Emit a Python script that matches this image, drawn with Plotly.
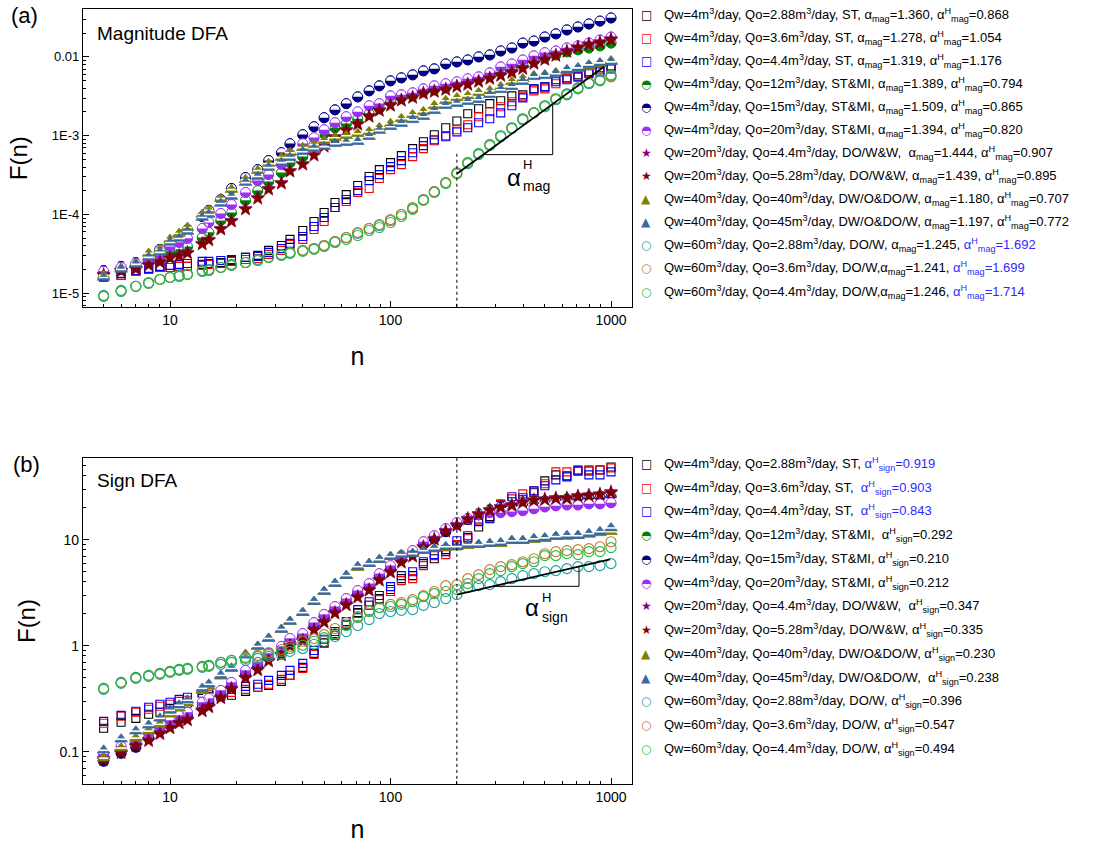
import plotly.graph_objects as go

W, H = 1113, 843

n_values = [5, 6, 7, 8, 9, 10, 11, 12, 14, 15, 17, 19, 22, 25, 28, 32, 35, 40, 45, 50,
            56, 63, 71, 80, 89, 100, 112, 126, 141, 158, 178, 200, 224, 251, 282, 316,
            355, 398, 447, 501, 562, 631, 708, 794, 891, 1000]

# ---------------- (a) Magnitude DFA ----------------
mag_sq_black = [1.59e-5, 1.69e-5, 1.90e-5, 2.01e-5, 2.13e-5, 2.13e-5, 2.20e-5, 2.20e-5, 2.33e-5, 2.39e-5,
                2.46e-5, 2.61e-5, 2.86e-5, 3.03e-5, 3.51e-5, 4.05e-5, 4.83e-5, 6.27e-5, 8.16e-5, 1.06e-4,
                1.42e-4, 1.79e-4, 2.33e-4, 3.03e-4, 3.71e-4, 4.55e-4, 5.58e-4, 6.85e-4, 8.39e-4, 1.03e-3,
                1.26e-3, 1.54e-3, 1.90e-3, 2.20e-3, 2.55e-3, 2.78e-3, 3.20e-3, 3.30e-3, 3.93e-3, 4.17e-3,
                5.12e-3, 5.42e-3, 5.92e-3, 6.46e-3, 7.25e-3, 7.69e-3]
mag_sq_red = [1.59e-5, 1.69e-5, 1.90e-5, 2.01e-5, 2.13e-5, 2.13e-5, 2.20e-5, 2.20e-5, 2.26e-5, 2.33e-5,
              2.39e-5, 2.54e-5, 2.69e-5, 2.77e-5, 3.12e-5, 3.51e-5, 4.17e-5, 4.83e-5, 6.46e-5, 8.16e-5,
              1.23e-4, 1.46e-4, 1.90e-4, 2.14e-4, 2.86e-4, 3.71e-4, 4.30e-4, 5.42e-4, 6.85e-4, 8.64e-4,
              1.00e-3, 1.19e-3, 1.38e-3, 1.74e-3, 2.01e-3, 2.33e-3, 2.70e-3, 3.11e-3, 3.71e-3, 3.93e-3,
              4.56e-3, 5.27e-3, 5.58e-3, 6.27e-3, 6.85e-3, 7.47e-3]
mag_sq_blue = [1.64e-5, 1.79e-5, 1.95e-5, 2.07e-5, 2.20e-5, 2.26e-5, 2.33e-5, 2.39e-5, 2.54e-5, 2.54e-5,
               2.61e-5, 2.69e-5, 2.86e-5, 2.94e-5, 3.31e-5, 3.71e-5, 4.30e-5, 5.26e-5, 7.04e-5, 9.16e-5,
               1.23e-4, 1.55e-4, 2.01e-4, 2.69e-4, 3.21e-4, 4.05e-4, 4.83e-4, 6.09e-4, 7.48e-4, 8.90e-4,
               9.71e-4, 1.12e-3, 1.26e-3, 1.46e-3, 1.64e-3, 1.95e-3, 2.40e-3, 3.02e-3, 3.93e-3, 4.17e-3,
               4.83e-3, 5.12e-3, 5.58e-3, 6.10e-3, 6.46e-3, 7.05e-3]
mag_hc_green = [1.74e-5, 2.01e-5, 2.26e-5, 2.46e-5, 2.69e-5, 3.40e-5, 3.61e-5, 3.93e-5, 5.11e-5, 5.92e-5,
                8.40e-5, 1.06e-4, 1.51e-4, 2.01e-4, 2.61e-4, 3.40e-4, 4.55e-4, 5.42e-4, 7.70e-4, 1.06e-3,
                1.26e-3, 1.42e-3, 1.64e-3, 1.89e-3, 2.20e-3, 2.70e-3, 3.02e-3, 3.20e-3, 3.60e-3, 3.82e-3,
                4.05e-3, 4.56e-3, 4.97e-3, 5.27e-3, 5.75e-3, 6.46e-3, 7.05e-3, 7.92e-3, 8.89e-3, 9.71e-3,
                1.06e-2, 1.16e-2, 1.23e-2, 1.30e-2, 1.38e-2, 1.50e-2]
mag_hc_navy = [1.95e-5, 2.20e-5, 2.46e-5, 2.94e-5, 3.61e-5, 4.42e-5, 5.26e-5, 6.46e-5, 9.43e-5, 1.13e-4,
               1.55e-4, 2.14e-4, 2.94e-4, 3.71e-4, 4.83e-4, 6.09e-4, 7.92e-4, 1.03e-3, 1.30e-3, 1.69e-3,
               2.13e-3, 2.55e-3, 3.11e-3, 3.71e-3, 4.29e-3, 4.97e-3, 5.42e-3, 5.92e-3, 6.65e-3, 7.05e-3,
               8.15e-3, 8.64e-3, 9.16e-3, 1.00e-2, 1.06e-2, 1.19e-2, 1.30e-2, 1.50e-2, 1.59e-2, 1.79e-2,
               1.96e-2, 2.20e-2, 2.40e-2, 2.62e-2, 2.85e-2, 3.12e-2]
mag_hc_purple = [1.90e-5, 2.13e-5, 2.39e-5, 2.69e-5, 3.03e-5, 3.93e-5, 4.42e-5, 4.97e-5, 6.65e-5, 7.92e-5,
                 1.03e-4, 1.34e-4, 1.90e-4, 2.69e-4, 3.21e-4, 4.30e-4, 5.92e-4, 7.92e-4, 9.43e-4, 1.19e-3,
                 1.46e-3, 1.74e-3, 2.01e-3, 2.40e-3, 2.55e-3, 3.20e-3, 3.30e-3, 3.50e-3, 3.93e-3, 4.29e-3,
                 4.56e-3, 4.83e-3, 5.27e-3, 5.58e-3, 6.27e-3, 7.47e-3, 8.15e-3, 9.16e-3, 1.03e-2, 1.13e-2,
                 1.19e-2, 1.30e-2, 1.38e-2, 1.50e-2, 1.64e-2, 1.79e-2]
mag_star_purple = [1.74e-5, 1.95e-5, 2.07e-5, 2.33e-5, 2.54e-5, 2.86e-5, 3.03e-5, 3.31e-5, 4.30e-5, 4.83e-5,
                   6.65e-5, 8.40e-5, 1.19e-4, 1.64e-4, 2.14e-4, 2.54e-4, 3.60e-4, 4.42e-4, 5.75e-4, 7.48e-4,
                   9.71e-4, 1.19e-3, 1.42e-3, 1.79e-3, 2.13e-3, 2.47e-3, 2.86e-3, 3.11e-3, 3.50e-3, 3.71e-3,
                   3.93e-3, 4.29e-3, 4.56e-3, 4.97e-3, 5.42e-3, 5.92e-3, 6.46e-3, 7.25e-3, 8.39e-3, 9.43e-3,
                   1.06e-2, 1.19e-2, 1.34e-2, 1.46e-2, 1.55e-2, 1.69e-2]
mag_star_darkred = [1.69e-5, 1.90e-5, 2.01e-5, 2.26e-5, 2.46e-5, 2.77e-5, 2.94e-5, 3.21e-5, 4.17e-5, 4.69e-5,
                    6.46e-5, 8.16e-5, 1.16e-4, 1.59e-4, 2.07e-4, 2.47e-4, 3.50e-4, 4.30e-4, 5.58e-4, 7.26e-4,
                    9.43e-4, 1.16e-3, 1.38e-3, 1.74e-3, 2.07e-3, 2.40e-3, 2.78e-3, 3.02e-3, 3.40e-3, 3.60e-3,
                    3.82e-3, 4.17e-3, 4.42e-3, 4.83e-3, 5.27e-3, 5.75e-3, 6.27e-3, 7.05e-3, 8.15e-3, 9.16e-3,
                    1.03e-2, 1.16e-2, 1.30e-2, 1.42e-2, 1.50e-2, 1.64e-2]
mag_tri_olive = [1.69e-5, 2.07e-5, 2.39e-5, 3.21e-5, 3.61e-5, 4.83e-5, 5.75e-5, 6.84e-5, 1.00e-4, 1.13e-4,
                 1.59e-4, 2.07e-4, 2.77e-4, 3.60e-4, 4.42e-4, 5.27e-4, 6.09e-4, 7.05e-4, 7.70e-4, 8.64e-4,
                 9.43e-4, 1.00e-3, 1.06e-3, 1.12e-3, 1.26e-3, 1.42e-3, 1.64e-3, 1.84e-3, 2.01e-3, 2.40e-3,
                 2.78e-3, 3.02e-3, 3.20e-3, 3.50e-3, 3.71e-3, 4.17e-3, 4.83e-3, 5.27e-3, 5.75e-3, 5.92e-3,
                 6.27e-3, 6.65e-3, 7.05e-3, 7.47e-3, 8.15e-3, 8.89e-3]
mag_tri_steel = [1.59e-5, 2.01e-5, 2.33e-5, 2.86e-5, 3.31e-5, 4.42e-5, 4.97e-5, 6.09e-5, 9.16e-5, 1.00e-4,
                 1.38e-4, 1.69e-4, 2.54e-4, 3.03e-4, 3.94e-4, 4.55e-4, 5.27e-4, 6.27e-4, 6.85e-4, 7.26e-4,
                 7.92e-4, 8.16e-4, 8.39e-4, 9.71e-4, 1.16e-3, 1.30e-3, 1.42e-3, 1.59e-3, 1.74e-3, 2.07e-3,
                 2.40e-3, 2.55e-3, 2.70e-3, 2.86e-3, 3.30e-3, 3.82e-3, 4.17e-3, 4.83e-3, 5.58e-3, 5.75e-3,
                 6.10e-3, 6.85e-3, 7.25e-3, 7.92e-3, 8.39e-3, 8.64e-3]
mag_circ_cyan = [9.42e-6, 1.09e-5, 1.23e-5, 1.37e-5, 1.50e-5, 1.59e-5, 1.69e-5, 1.74e-5, 1.95e-5, 2.01e-5,
                 2.13e-5, 2.33e-5, 2.46e-5, 2.69e-5, 2.86e-5, 3.12e-5, 3.31e-5, 3.51e-5, 3.71e-5, 4.05e-5,
                 4.55e-5, 5.11e-5, 5.75e-5, 6.65e-5, 7.25e-5, 8.40e-5, 1.00e-4, 1.19e-4, 1.55e-4, 1.95e-4,
                 2.54e-4, 3.30e-4, 4.42e-4, 5.75e-4, 7.48e-4, 9.71e-4, 1.23e-3, 1.59e-3, 1.95e-3, 2.33e-3,
                 2.86e-3, 3.30e-3, 3.93e-3, 4.56e-3, 4.97e-3, 5.58e-3]
mag_circ_brown = [9.15e-6, 1.06e-5, 1.23e-5, 1.34e-5, 1.50e-5, 1.59e-5, 1.64e-5, 1.74e-5, 1.90e-5, 1.95e-5,
                  2.13e-5, 2.26e-5, 2.46e-5, 2.61e-5, 2.86e-5, 3.03e-5, 3.21e-5, 3.51e-5, 3.71e-5, 4.05e-5,
                  4.55e-5, 5.11e-5, 5.92e-5, 6.65e-5, 7.47e-5, 8.65e-5, 1.00e-4, 1.23e-4, 1.55e-4, 1.95e-4,
                  2.54e-4, 3.40e-4, 4.55e-4, 5.92e-4, 7.70e-4, 1.00e-3, 1.26e-3, 1.64e-3, 1.95e-3, 2.40e-3,
                  2.94e-3, 3.40e-3, 4.05e-3, 4.69e-3, 5.12e-3, 5.75e-3]
mag_circ_green = [9.15e-6, 1.06e-5, 1.23e-5, 1.34e-5, 1.50e-5, 1.59e-5, 1.64e-5, 1.74e-5, 1.90e-5, 1.95e-5,
                  2.13e-5, 2.26e-5, 2.46e-5, 2.61e-5, 2.86e-5, 3.03e-5, 3.21e-5, 3.40e-5, 3.61e-5, 3.93e-5,
                  4.42e-5, 4.83e-5, 5.42e-5, 6.27e-5, 6.84e-5, 7.92e-5, 9.43e-5, 1.16e-4, 1.51e-4, 1.90e-4,
                  2.47e-4, 3.30e-4, 4.55e-4, 5.92e-4, 7.70e-4, 1.00e-3, 1.26e-3, 1.64e-3, 1.95e-3, 2.40e-3,
                  2.94e-3, 3.40e-3, 4.05e-3, 4.69e-3, 5.12e-3, 5.92e-3]

# ---------------- (b) Sign DFA ----------------
sign_sq_black = [0.166, 0.189, 0.206, 0.225, 0.235, 0.256, 0.268, 0.286, 0.318, 0.333,
                 0.333, 0.340, 0.370, 0.404, 0.422, 0.460, 0.524, 0.624, 0.845, 1.07,
                 1.30, 1.59, 2.05, 2.40, 2.78, 3.39, 4.29, 4.58, 5.94, 6.62,
                 8.06, 8.78, 10.5, 13.2, 16.5, 21.3, 22.8, 23.8, 27.7, 35.9,
                 40.9, 40.0, 44.6, 44.6, 45.6, 48.6]
sign_sq_red = [0.185, 0.216, 0.235, 0.251, 0.268, 0.280, 0.298, 0.305, 0.340, 0.348,
               0.348, 0.362, 0.387, 0.404, 0.432, 0.481, 0.524, 0.610, 0.827, 1.05,
               1.25, 1.55, 2.01, 2.40, 2.72, 3.24, 4.11, 4.29, 5.69, 7.07,
               7.23, 8.98, 10.2, 15.1, 16.1, 21.8, 24.3, 27.1, 28.9, 33.7,
               43.7, 43.7, 45.6, 45.6, 45.6, 47.6]
sign_sq_blue = [0.193, 0.220, 0.240, 0.262, 0.280, 0.292, 0.311, 0.326, 0.355, 0.362,
                0.370, 0.387, 0.413, 0.432, 0.470, 0.524, 0.584, 0.680, 0.901, 1.15,
                1.36, 1.69, 2.19, 2.60, 2.97, 3.61, 4.58, 4.99, 6.20, 7.23,
                7.71, 9.77, 10.9, 14.8, 15.8, 20.9, 25.4, 24.9, 28.9, 32.3,
                36.7, 39.2, 44.6, 40.9, 40.9, 43.7]
sign_hc_green = [0.0849, 0.101, 0.117, 0.140, 0.159, 0.185, 0.211, 0.225, 0.274, 0.305,
                 0.362, 0.432, 0.559, 0.666, 0.810, 0.941, 1.12, 1.25, 1.59, 1.88,
                 2.24, 2.66, 3.17, 3.69, 4.58, 5.45, 6.62, 7.55, 9.17, 10.7,
                 12.2, 14.1, 15.8, 17.6, 19.2, 20.4, 20.9, 21.8, 22.8, 23.3,
                 23.8, 24.3, 24.9, 25.4, 25.9, 26.5]
sign_hc_navy = [0.0812, 0.0966, 0.110, 0.134, 0.156, 0.177, 0.206, 0.220, 0.262, 0.292,
                0.348, 0.413, 0.536, 0.637, 0.775, 0.921, 1.10, 1.25, 1.55, 1.88,
                2.19, 2.60, 3.10, 3.61, 4.58, 5.33, 6.48, 7.38, 8.98, 10.2,
                11.9, 14.1, 15.5, 17.2, 18.8, 20.4, 20.4, 20.9, 21.3, 22.3,
                23.3, 23.8, 24.3, 24.9, 24.9, 25.4]
sign_hc_purple = [0.0946, 0.112, 0.126, 0.149, 0.170, 0.197, 0.220, 0.235, 0.292, 0.318,
                  0.378, 0.450, 0.584, 0.695, 0.845, 0.984, 1.17, 1.30, 1.65, 1.97,
                  2.34, 2.78, 3.31, 3.85, 4.78, 5.69, 7.07, 7.88, 9.56, 10.9,
                  12.7, 14.5, 15.8, 17.2, 18.0, 18.0, 18.4, 18.8, 19.6, 20.4,
                  20.9, 21.3, 21.3, 21.8, 21.8, 22.3]
sign_star_purple = [0.0857, 0.0990, 0.115, 0.129, 0.150, 0.170, 0.189, 0.202, 0.246, 0.268,
                    0.326, 0.397, 0.503, 0.598, 0.727, 0.830, 1.01, 1.13, 1.42, 1.69,
                    2.06, 2.46, 2.91, 3.39, 4.21, 5.01, 6.22, 7.09, 8.62, 10.2,
                    12.2, 13.8, 15.9, 17.6, 19.2, 20.5, 21.4, 22.8, 23.8, 24.3,
                    24.9, 24.9, 26.0, 26.5, 27.1, 28.4]
sign_star_darkred = [0.0831, 0.0966, 0.112, 0.126, 0.146, 0.166, 0.185, 0.197, 0.240, 0.262,
                     0.318, 0.387, 0.491, 0.584, 0.710, 0.810, 0.984, 1.10, 1.39, 1.65,
                     2.01, 2.40, 2.84, 3.31, 4.11, 4.89, 6.07, 6.92, 8.41, 10.0,
                     11.9, 13.5, 15.5, 17.2, 18.8, 20.0, 20.9, 22.3, 23.3, 23.8,
                     24.3, 24.3, 25.4, 25.9, 26.5, 27.7]
sign_tri_olive = [0.0867, 0.108, 0.134, 0.156, 0.181, 0.225, 0.256, 0.286, 0.378, 0.413,
                  0.513, 0.610, 0.827, 0.984, 1.17, 1.42, 1.69, 2.05, 2.60, 3.24,
                  3.85, 4.58, 5.45, 5.94, 6.48, 6.92, 7.23, 7.38, 7.88, 8.23,
                  8.41, 8.59, 8.78, 8.98, 9.17, 9.17, 9.77, 9.77, 10.0, 10.2,
                  10.7, 10.7, 10.9, 11.2, 11.6, 11.9]
sign_tri_steel = [0.103, 0.131, 0.156, 0.177, 0.206, 0.245, 0.274, 0.305, 0.395, 0.432,
                  0.524, 0.610, 0.810, 0.984, 1.17, 1.42, 1.69, 2.05, 2.60, 3.24,
                  3.85, 4.58, 5.57, 5.94, 6.48, 6.92, 7.23, 7.38, 7.88, 8.23,
                  8.59, 8.59, 8.98, 8.98, 9.17, 9.35, 9.77, 9.77, 10.2, 10.4,
                  10.7, 10.9, 10.9, 11.4, 11.9, 12.9]
sign_circ_cyan = [0.387, 0.441, 0.491, 0.513, 0.536, 0.559, 0.584, 0.597, 0.624, 0.637,
                  0.666, 0.695, 0.726, 0.758, 0.792, 0.827, 0.882, 0.941, 1.03, 1.10,
                  1.22, 1.36, 1.55, 1.76, 2.01, 2.10, 2.15, 2.19, 2.40, 2.55,
                  2.78, 3.03, 3.53, 3.69, 3.77, 4.02, 4.29, 4.58, 4.78, 4.99,
                  5.11, 5.33, 5.57, 5.57, 5.69, 5.94]
sign_circ_brown = [0.395, 0.450, 0.502, 0.524, 0.547, 0.572, 0.597, 0.610, 0.637, 0.651,
                   0.695, 0.726, 0.775, 0.810, 0.863, 0.921, 0.984, 1.10, 1.17, 1.27,
                   1.45, 1.65, 1.88, 2.15, 2.29, 2.45, 2.55, 2.72, 2.97, 3.24,
                   3.69, 3.77, 4.29, 4.68, 5.22, 5.57, 5.82, 6.20, 6.62, 7.38,
                   7.71, 7.88, 8.06, 8.23, 8.59, 9.56]
sign_circ_green = [0.395, 0.450, 0.502, 0.524, 0.547, 0.572, 0.597, 0.610, 0.637, 0.651,
                   0.695, 0.726, 0.758, 0.792, 0.827, 0.882, 0.941, 1.01, 1.10, 1.19,
                   1.30, 1.55, 1.84, 2.10, 2.29, 2.34, 2.45, 2.60, 2.90, 3.10,
                   3.24, 3.39, 3.85, 4.29, 4.78, 5.11, 5.57, 5.94, 6.20, 7.07,
                   7.07, 7.38, 7.23, 7.71, 7.71, 8.41]

# fit lines and slope guides (n, F)
mag_fit_n = [200, 929]
mag_fit_F = [3.3e-4, 7.5e-3]
mag_guide_n = [263, 544, 544]
mag_guide_F = [5.75e-4, 5.75e-4, 2.45e-3]
sign_fit_n = [200, 990]
sign_fit_F = [3.03, 6.52]
sign_guide_n = [292, 716, 716]
sign_guide_F = [3.63, 3.63, 5.58]
crossover_n = 200

# legend labels
BL = '#2b2bff'
mag_labels = [
    "Qw=4m<sup>3</sup>/day, Qo=2.88m<sup>3</sup>/day, ST, α<sub>mag</sub>=1.360, α<sup>H</sup><sub>mag</sub>=0.868",
    "Qw=4m<sup>3</sup>/day, Qo=3.6m<sup>3</sup>/day, ST, α<sub>mag</sub>=1.278, α<sup>H</sup><sub>mag</sub>=1.054",
    "Qw=4m<sup>3</sup>/day, Qo=4.4m<sup>3</sup>/day, ST, α<sub>mag</sub>=1.319, α<sup>H</sup><sub>mag</sub>=1.176",
    "Qw=4m<sup>3</sup>/day, Qo=12m<sup>3</sup>/day, ST&amp;MI, α<sub>mag</sub>=1.389, α<sup>H</sup><sub>mag</sub>=0.794",
    "Qw=4m<sup>3</sup>/day, Qo=15m<sup>3</sup>/day, ST&amp;MI, α<sub>mag</sub>=1.509, α<sup>H</sup><sub>mag</sub>=0.865",
    "Qw=4m<sup>3</sup>/day, Qo=20m<sup>3</sup>/day, ST&amp;MI, α<sub>mag</sub>=1.394, α<sup>H</sup><sub>mag</sub>=0.820",
    "Qw=20m<sup>3</sup>/day, Qo=4.4m<sup>3</sup>/day, DO/W&amp;W,  α<sub>mag</sub>=1.444, α<sup>H</sup><sub>mag</sub>=0.907",
    "Qw=20m<sup>3</sup>/day, Qo=5.28m<sup>3</sup>/day, DO/W&amp;W, α<sub>mag</sub>=1.439, α<sup>H</sup><sub>mag</sub>=0.895",
    "Qw=40m<sup>3</sup>/day, Qo=40m<sup>3</sup>/day, DW/O&amp;DO/W, α<sub>mag</sub>=1.180, α<sup>H</sup><sub>mag</sub>=0.707",
    "Qw=40m<sup>3</sup>/day, Qo=45m<sup>3</sup>/day, DW/O&amp;DO/W, α<sub>mag</sub>=1.197, α<sup>H</sup><sub>mag</sub>=0.772",
    "Qw=60m<sup>3</sup>/day, Qo=2.88m<sup>3</sup>/day, DO/W, α<sub>mag</sub>=1.245, <span style='color:" + BL + "'>α<sup>H</sup><sub>mag</sub>=1.692</span>",
    "Qw=60m<sup>3</sup>/day, Qo=3.6m<sup>3</sup>/day, DO/W,α<sub>mag</sub>=1.241, <span style='color:" + BL + "'>α<sup>H</sup><sub>mag</sub>=1.699</span>",
    "Qw=60m<sup>3</sup>/day, Qo=4.4m<sup>3</sup>/day, DO/W,α<sub>mag</sub>=1.246, <span style='color:" + BL + "'>α<sup>H</sup><sub>mag</sub>=1.714</span>",
]
sign_labels = [
    "Qw=4m<sup>3</sup>/day, Qo=2.88m<sup>3</sup>/day, ST, <span style='color:" + BL + "'>α<sup>H</sup><sub>sign</sub>=0.919</span>",
    "Qw=4m<sup>3</sup>/day, Qo=3.6m<sup>3</sup>/day, ST,  <span style='color:" + BL + "'>α<sup>H</sup><sub>sign</sub>=0.903</span>",
    "Qw=4m<sup>3</sup>/day, Qo=4.4m<sup>3</sup>/day, ST,  <span style='color:" + BL + "'>α<sup>H</sup><sub>sign</sub>=0.843</span>",
    "Qw=4m<sup>3</sup>/day, Qo=12m<sup>3</sup>/day, ST&amp;MI,  α<sup>H</sup><sub>sign</sub>=0.292",
    "Qw=4m<sup>3</sup>/day, Qo=15m<sup>3</sup>/day, ST&amp;MI, α<sup>H</sup><sub>sign</sub>=0.210",
    "Qw=4m<sup>3</sup>/day, Qo=20m<sup>3</sup>/day, ST&amp;MI, α<sup>H</sup><sub>sign</sub>=0.212",
    "Qw=20m<sup>3</sup>/day, Qo=4.4m<sup>3</sup>/day, DO/W&amp;W,  α<sup>H</sup><sub>sign</sub>=0.347",
    "Qw=20m<sup>3</sup>/day, Qo=5.28m<sup>3</sup>/day, DO/W&amp;W, α<sup>H</sup><sub>sign</sub>=0.335",
    "Qw=40m<sup>3</sup>/day, Qo=40m<sup>3</sup>/day, DW/O&amp;DO/W, α<sup>H</sup><sub>sign</sub>=0.230",
    "Qw=40m<sup>3</sup>/day, Qo=45m<sup>3</sup>/day, DW/O&amp;DO/W,  α<sup>H</sup><sub>sign</sub>=0.238",
    "Qw=60m<sup>3</sup>/day, Qo=2.88m<sup>3</sup>/day, DO/W, α<sup>H</sup><sub>sign</sub>=0.396",
    "Qw=60m<sup>3</sup>/day, Qo=3.6m<sup>3</sup>/day, DO/W, α<sup>H</sup><sub>sign</sub>=0.547",
    "Qw=60m<sup>3</sup>/day, Qo=4.4m<sup>3</sup>/day, DO/W, α<sup>H</sup><sub>sign</sub>=0.494",
]

# series styling: (kind, color)
styles = [
    ('square', '#000000'), ('square', '#ff0000'), ('square', '#0000ff'),
    ('half', '#008000'), ('half', '#000080'), ('half', '#9b30f5'),
    ('star', '#800080'), ('star', '#800000'),
    ('tri', '#808000'), ('tri', '#3b6aa0'),
    ('circle', '#1a9e9e'), ('circle', '#c07830'), ('circle', '#22bb44'),
]
mag_series = [mag_sq_black, mag_sq_red, mag_sq_blue, mag_hc_green, mag_hc_navy, mag_hc_purple,
              mag_star_purple, mag_star_darkred, mag_tri_olive, mag_tri_steel,
              mag_circ_cyan, mag_circ_brown, mag_circ_green]
sign_series = [sign_sq_black, sign_sq_red, sign_sq_blue, sign_hc_green, sign_hc_navy, sign_hc_purple,
               sign_star_purple, sign_star_darkred, sign_tri_olive, sign_tri_steel,
               sign_circ_cyan, sign_circ_brown, sign_circ_green]

FONT = "Arial, Liberation Sans, sans-serif"
GLYPH_FONT = "DejaVu Sans"

fig = go.Figure()


def add_series(kind, color, yvals, xa, ya):
    common = dict(x=n_values, y=yvals, xaxis=xa, yaxis=ya, showlegend=False, hoverinfo='skip', mode='markers')
    if kind == 'square':
        fig.add_trace(go.Scatter(marker=dict(symbol='square-open', size=8, color=color,
                                             line=dict(width=1.1, color=color)), **common))
    elif kind == 'circle':
        fig.add_trace(go.Scatter(marker=dict(symbol='circle-open', size=10, color=color,
                                             line=dict(width=1.1, color=color)), **common))
    elif kind == 'star':
        fig.add_trace(go.Scatter(marker=dict(symbol='star', size=10, color=color,
                                             line=dict(width=0.5, color=color)), **common))
    elif kind == 'tri':
        fig.add_trace(go.Scatter(marker=dict(symbol='triangle-up', size=11, color=color,
                                             line=dict(width=0.8, color=color)), **common))
        fig.add_trace(go.Scatter(marker=dict(symbol='line-ew', size=7,
                                             line=dict(width=1.6, color='white')), **common))
    elif kind == 'half':
        # upper half filled circle: full disc, white lower half, coloured rim
        fig.add_trace(go.Scatter(marker=dict(symbol='circle', size=10, color=color,
                                             line=dict(width=0.8, color=color)), **common))
        fig.add_trace(go.Scatter(marker=dict(symbol='line-ew', size=8, angle=180, standoff=2.4,
                                             line=dict(width=4.6, color='white')), **common))
        fig.add_trace(go.Scatter(marker=dict(symbol='circle-open', size=10, color=color,
                                             line=dict(width=1.0, color=color)), **common))


for (kind, color), ys in zip(styles, mag_series):
    add_series(kind, color, ys, 'x', 'y')
for (kind, color), ys in zip(styles, sign_series):
    add_series(kind, color, ys, 'x2', 'y2')

TOP_RANGE = [-5.177, -1.392]
BOT_RANGE = [-1.307, 1.772]

# crossover dotted lines, fit lines, guides
fig.add_trace(go.Scatter(x=[crossover_n, crossover_n], y=[5.9e-4, 10 ** TOP_RANGE[0]], mode='lines',
                         line=dict(color='black', width=1, dash='dot'), xaxis='x', yaxis='y',
                         showlegend=False, hoverinfo='skip'))
fig.add_trace(go.Scatter(x=[crossover_n, crossover_n], y=[10 ** BOT_RANGE[1], 10 ** BOT_RANGE[0]], mode='lines',
                         line=dict(color='black', width=1, dash='dot'), xaxis='x2', yaxis='y2',
                         showlegend=False, hoverinfo='skip'))
fig.add_trace(go.Scatter(x=mag_fit_n, y=mag_fit_F, mode='lines', line=dict(color='black', width=1.8),
                         xaxis='x', yaxis='y', showlegend=False, hoverinfo='skip'))
fig.add_trace(go.Scatter(x=mag_guide_n, y=mag_guide_F, mode='lines', line=dict(color='black', width=1),
                         xaxis='x', yaxis='y', showlegend=False, hoverinfo='skip'))
fig.add_trace(go.Scatter(x=sign_fit_n, y=sign_fit_F, mode='lines', line=dict(color='black', width=1.8),
                         xaxis='x2', yaxis='y2', showlegend=False, hoverinfo='skip'))
fig.add_trace(go.Scatter(x=sign_guide_n, y=sign_guide_F, mode='lines', line=dict(color='black', width=1),
                         xaxis='x2', yaxis='y2', showlegend=False, hoverinfo='skip'))


def px_x(v):
    return v / W


def px_y(v):
    return 1 - v / H


x_minor = [m * 10 ** e for e in range(0, 4) for m in range(2, 10)]
top_minor = [m * 10 ** e for e in range(-6, -1) for m in range(2, 10)]
bot_minor = [m * 10 ** e for e in range(-2, 2) for m in range(2, 10)]

axis_common = dict(type='log', showgrid=False, zeroline=False, showline=True, linecolor='black',
                   linewidth=1.3, mirror=True, ticks='inside', ticklen=6, tickwidth=1, tickcolor='black',
                   tickfont=dict(family=FONT, size=14, color='black'))

xcommon = dict(axis_common, range=[0.6054, 3.0952], tickmode='array', tickvals=[10, 100, 1000],
               ticktext=['10', '100', '1000'], domain=[px_x(83), px_x(632)],
               minor=dict(tickmode='array', tickvals=x_minor, ticks='inside', ticklen=3, tickcolor='black',
                          tickwidth=1, showgrid=False),
               title=dict(text='n', font=dict(family=FONT, size=25, color='black'), standoff=20))

fig.update_layout(
    width=W, height=H, margin=dict(l=0, r=0, t=0, b=0),
    paper_bgcolor='white', plot_bgcolor='white',
    font=dict(family=FONT, color='black'),
    xaxis=dict(xcommon, anchor='y'),
    yaxis=dict(axis_common, anchor='x', domain=[px_y(308), px_y(9)], range=TOP_RANGE,
               tickmode='array', tickvals=[1e-5, 1e-4, 1e-3, 1e-2], ticktext=['1E-5', '1E-4', '1E-3', '0.01'],
               tickfont=dict(family=FONT, size=13, color='black'),
               minor=dict(tickmode='array', tickvals=top_minor, ticks='inside', ticklen=3, tickcolor='black',
                          tickwidth=1, showgrid=False),
               title=dict(text='F(n)', font=dict(family=FONT, size=24, color='black'), standoff=17)),
    xaxis2=dict(xcommon, anchor='y2'),
    yaxis2=dict(axis_common, anchor='x2', domain=[px_y(786), px_y(459)], range=BOT_RANGE,
                tickmode='array', tickvals=[0.1, 1, 10], ticktext=['0.1', '1', '10'],
                tickfont=dict(family=FONT, size=14, color='black'),
                minor=dict(tickmode='array', tickvals=bot_minor, ticks='inside', ticklen=3, tickcolor='black',
                           tickwidth=1, showgrid=False),
                title=dict(text='F(n)', font=dict(family=FONT, size=24, color='black'), standoff=17)),
)

ann = []


def text_ann(txt, x, y, size, xanchor='left', color='black', family=FONT):
    ann.append(dict(text=txt, x=px_x(x), y=px_y(y), xref='paper', yref='paper', xanchor=xanchor,
                    yanchor='middle', showarrow=False, font=dict(family=family, size=size, color=color)))


text_ann('(a)', 9, 16, 22)
text_ann('(b)', 11, 466, 22)
text_ann('Magnitude DFA', 95, 34, 19)
text_ann('Sign DFA', 95, 482, 19)

# slope labels
text_ann('α', 514, 178, 24, xanchor='center')
text_ann('H', 527, 165, 13, xanchor='center')
text_ann('mag', 521, 186, 14)
text_ann('α', 532, 609, 24, xanchor='center')
text_ann('H', 546, 599, 13, xanchor='center')
text_ann('sign', 540, 618, 14)

# legends
glyph_for = {'square': '\u25a1', 'circle': '\u25cb', 'half': '\u25d3', 'star': '\u2605', 'tri': '\u25b2'}
for i, ((kind, color), lab) in enumerate(zip(styles, mag_labels)):
    yy = 15 + 23.1 * i
    text_ann(glyph_for[kind], 646, yy, 12, xanchor='center', color=color, family=GLYPH_FONT)
    text_ann(lab, 662, yy, 13)
for i, ((kind, color), lab) in enumerate(zip(styles, sign_labels)):
    yy = 465 + 23.8 * i
    text_ann(glyph_for[kind], 646, yy, 12, xanchor='center', color=color, family=GLYPH_FONT)
    text_ann(lab, 662, yy, 13)

fig.update_layout(annotations=ann)

# remove the page's default body margin so the figure sits at the window's top-left corner
fig.write_html("out.html", config={'displayModeBar': False},
               post_script="document.body.style.margin='0px';")
